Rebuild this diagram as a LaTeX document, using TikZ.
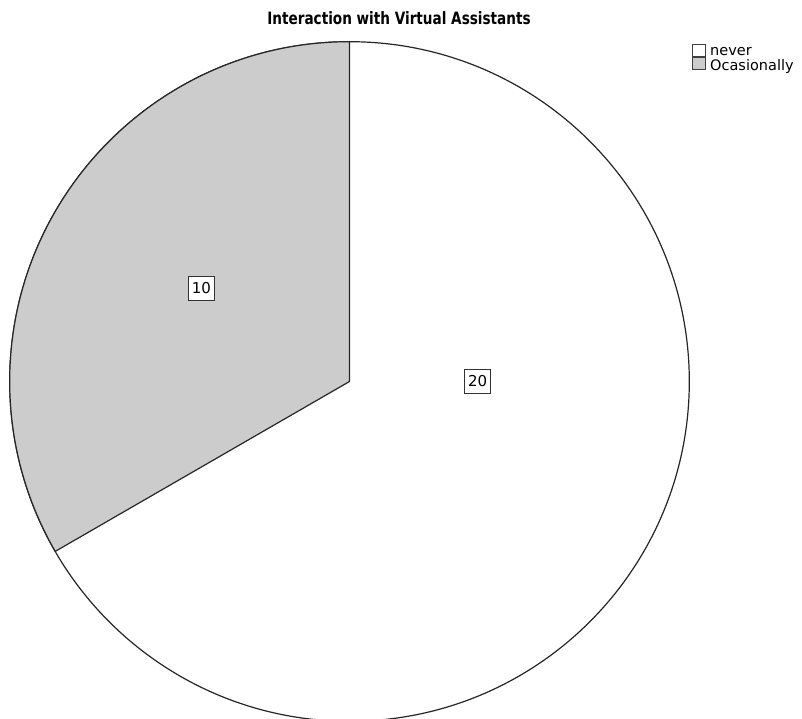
\documentclass[tikz,border=0pt]{standalone}
\usepackage{fontspec}
\setmainfont{DejaVu Sans}
\newfontfamily\titlefont{DejaVu Sans}[FakeStretch=0.8]
\newfontfamily\labfont{DejaVu Sans}
\begin{document}
\begin{tikzpicture}[x=1pt,y=1pt,
  slice/.style={draw=black!85, line width=1.2pt, line join=round},
  vallabel/.style={draw=black!80, line width=1pt, fill=white, inner sep=0pt, minimum width=26pt, minimum height=24pt, font=\labfont\fontsize{15}{17}\selectfont},
  legbox/.style={draw=black!75, line width=0.9pt, minimum width=12.5pt, minimum height=12pt, inner sep=0pt},
  legtext/.style={anchor=base west, inner sep=0pt, font=\labfont\fontsize{14.5}{16}\selectfont}]
\useasboundingbox (0,0) rectangle (802,718);
\clip (0,0) rectangle (802,718);
\fill[white] (0,0) rectangle (802,718);
\coordinate (c) at (349.5,336.5);
\def\R{339.8}
% white slice (whole circle)
\draw[slice, fill=white] (c) circle[radius=\R];
% grey slice
\draw[slice, fill=black!20] (c) -- ++(90:\R) arc[start angle=90, end angle=210, radius=\R] -- cycle;
% value labels
\node[vallabel] (l10) at (201.3,429.7) {10};
\node[vallabel] (l20) at (477.7,336.5) {20};
% title
\node[anchor=base, inner sep=0pt, font=\titlefont\bfseries\fontsize{17}{20}\selectfont] (title) at (399,693) {Interaction with Virtual Assistants};
% legend
\node[legbox, fill=white] (b1) at (698.7,668) {};
\node[legbox, fill=black!20] (b2) at (698.7,655) {};
\node[legtext] (t1) at (710,662) {never};
\node[legtext] (t2) at (710,647.5) {Ocasionally};
\end{tikzpicture}
\end{document}
